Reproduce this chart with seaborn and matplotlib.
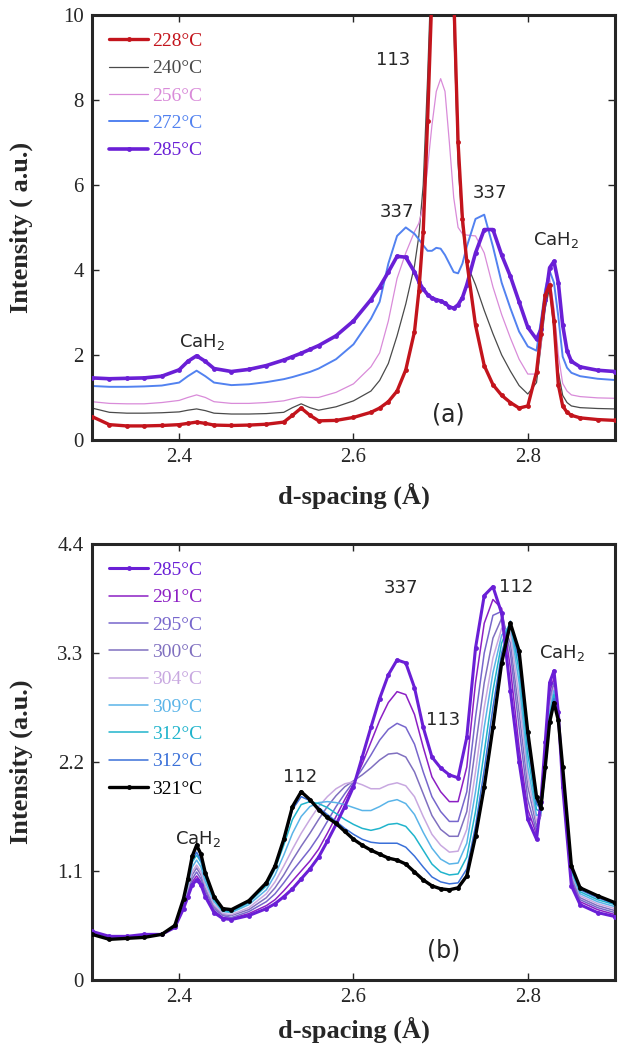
import pandas as pd
import seaborn as sns
import matplotlib.pyplot as plt

sns.set_style("ticks")
plt.rcParams["font.family"] = ["Liberation Serif", "DejaVu Serif"]
plt.rcParams["mathtext.fontset"] = "dejavusans"

# ---------------- panel (a) data ----------------
x_a = [2.30, 2.32, 2.34, 2.36, 2.38, 2.40, 2.41, 2.42, 2.43, 2.44,
       2.46, 2.48, 2.50, 2.52, 2.53, 2.54, 2.55, 2.56, 2.58, 2.60,
       2.62, 2.63, 2.64, 2.65, 2.66, 2.67, 2.675, 2.68, 2.685, 2.69,
       2.695, 2.70, 2.705, 2.71, 2.715, 2.72, 2.725, 2.73, 2.74, 2.75,
       2.76, 2.77, 2.78, 2.79, 2.80, 2.81, 2.815, 2.82, 2.825, 2.83,
       2.835, 2.84, 2.845, 2.85, 2.86, 2.88, 2.90]

a_228 = [0.55, 0.36, 0.33, 0.33, 0.34, 0.36, 0.39, 0.42, 0.39, 0.35,
         0.34, 0.35, 0.37, 0.42, 0.58, 0.75, 0.58, 0.45, 0.46, 0.53,
         0.65, 0.75, 0.90, 1.15, 1.65, 2.55, 3.50, 4.90, 7.50, 10.5,
         14.0, 16.0, 15.5, 13.0, 10.5, 7.0, 5.2, 4.2, 2.70, 1.75,
         1.30, 1.05, 0.88, 0.75, 0.80, 1.60, 2.50, 3.40, 3.65, 2.80,
         1.30, 0.80, 0.65, 0.58, 0.52, 0.48, 0.46]
a_240 = [0.75, 0.65, 0.63, 0.63, 0.64, 0.66, 0.70, 0.73, 0.69, 0.63,
         0.61, 0.61, 0.62, 0.65, 0.76, 0.85, 0.76, 0.70, 0.78, 0.92,
         1.15, 1.40, 1.80, 2.45, 3.20, 4.10, 4.80, 6.00, 8.50, 11.5,
         14.0, 15.0, 14.5, 12.5, 9.8, 6.5, 5.0, 4.15, 3.65, 3.05,
         2.50, 2.00, 1.62, 1.28, 1.08, 1.35, 2.20, 3.10, 3.58, 2.60,
         1.60, 1.05, 0.88, 0.80, 0.76, 0.74, 0.73]
a_256 = [0.90, 0.86, 0.85, 0.85, 0.88, 0.93, 1.00, 1.06, 1.00, 0.90,
         0.86, 0.86, 0.88, 0.92, 0.97, 1.01, 1.00, 1.00, 1.12, 1.32,
         1.72, 2.05, 2.80, 3.80, 4.40, 4.90, 5.10, 5.50, 6.40, 7.40,
         8.20, 8.50, 8.20, 7.00, 5.70, 5.00, 4.85, 4.82, 4.80, 4.40,
         3.60, 2.95, 2.40, 1.90, 1.55, 1.55, 2.20, 3.30, 3.82, 3.10,
         2.00, 1.33, 1.15, 1.06, 1.02, 0.99, 0.98]
a_272 = [1.27, 1.25, 1.25, 1.26, 1.28, 1.35, 1.50, 1.63, 1.50, 1.35,
         1.29, 1.31, 1.36, 1.43, 1.48, 1.54, 1.60, 1.68, 1.90, 2.25,
         2.85, 3.25, 4.15, 4.80, 5.00, 4.85, 4.72, 4.58, 4.45, 4.45,
         4.52, 4.50, 4.35, 4.15, 3.95, 3.92, 4.15, 4.55, 5.20, 5.30,
         4.55, 3.70, 3.10, 2.55, 2.20, 2.10, 2.80, 3.55, 3.98, 3.70,
         2.90, 1.96, 1.70, 1.58, 1.50, 1.44, 1.41]
a_285 = [1.46, 1.44, 1.45, 1.46, 1.50, 1.65, 1.85, 1.98, 1.85, 1.68,
         1.61, 1.66, 1.75, 1.88, 1.96, 2.04, 2.13, 2.22, 2.45, 2.80,
         3.30, 3.60, 3.95, 4.32, 4.30, 3.95, 3.72, 3.55, 3.42, 3.34,
         3.30, 3.27, 3.22, 3.13, 3.10, 3.18, 3.35, 3.65, 4.40, 4.95,
         4.95, 4.35, 3.85, 3.25, 2.65, 2.37, 2.60, 3.30, 4.05, 4.20,
         3.70, 2.70, 2.10, 1.85, 1.72, 1.64, 1.61]

# ---------------- panel (b) data ----------------
x_b = [2.30, 2.32, 2.34, 2.36, 2.38, 2.395, 2.405, 2.41, 2.415, 2.42,
       2.425, 2.43, 2.44, 2.45, 2.46, 2.48, 2.50, 2.51, 2.52, 2.53,
       2.54, 2.55, 2.56, 2.57, 2.58, 2.59, 2.60, 2.61, 2.62, 2.63,
       2.64, 2.65, 2.66, 2.67, 2.68, 2.69, 2.70, 2.71, 2.72, 2.73,
       2.74, 2.75, 2.76, 2.77, 2.78, 2.79, 2.80, 2.81, 2.815, 2.82,
       2.825, 2.83, 2.835, 2.84, 2.85, 2.86, 2.88, 2.90]

b_285 = [0.49, 0.44, 0.44, 0.46, 0.46, 0.53, 0.72, 0.84, 0.96, 1.01,
         0.96, 0.84, 0.68, 0.62, 0.61, 0.65, 0.72, 0.77, 0.84, 0.92,
         1.02, 1.12, 1.24, 1.40, 1.57, 1.75, 1.95, 2.25, 2.55, 2.84,
         3.08, 3.23, 3.20, 2.95, 2.55, 2.25, 2.14, 2.07, 2.04, 2.45,
         3.35, 3.88, 3.97, 3.70, 2.92, 2.20, 1.62, 1.42, 1.80, 2.40,
         3.00, 3.12, 2.70, 1.95, 0.95, 0.76, 0.68, 0.64]
b_291 = [0.48, 0.44, 0.44, 0.45, 0.46, 0.53, 0.74, 0.86, 0.99, 1.05,
         0.99, 0.87, 0.70, 0.63, 0.62, 0.67, 0.75, 0.81, 0.90, 1.00,
         1.10, 1.20, 1.32, 1.48, 1.65, 1.82, 1.98, 2.18, 2.40, 2.62,
         2.80, 2.91, 2.88, 2.68, 2.35, 2.05, 1.90, 1.80, 1.80, 2.15,
         3.00, 3.60, 3.84, 3.75, 3.15, 2.35, 1.72, 1.47, 1.72, 2.30,
         2.90, 3.05, 2.72, 2.00, 1.00, 0.79, 0.71, 0.66]
b_295 = [0.48, 0.43, 0.44, 0.45, 0.46, 0.54, 0.76, 0.88, 1.02, 1.09,
         1.02, 0.90, 0.72, 0.65, 0.63, 0.69, 0.79, 0.87, 0.98, 1.10,
         1.21, 1.32, 1.45, 1.60, 1.75, 1.88, 2.00, 2.13, 2.27, 2.42,
         2.53, 2.59, 2.55, 2.38, 2.10, 1.85, 1.70, 1.60, 1.60, 1.90,
         2.65, 3.30, 3.68, 3.72, 3.30, 2.55, 1.82, 1.50, 1.68, 2.22,
         2.85, 3.00, 2.70, 2.02, 1.02, 0.81, 0.73, 0.68]
b_300 = [0.48, 0.43, 0.44, 0.45, 0.46, 0.54, 0.77, 0.91, 1.06, 1.13,
         1.06, 0.93, 0.74, 0.66, 0.65, 0.71, 0.83, 0.93, 1.06, 1.21,
         1.35, 1.48, 1.62, 1.75, 1.86, 1.95, 2.01, 2.07, 2.14, 2.22,
         2.28, 2.29, 2.25, 2.10, 1.88, 1.66, 1.52, 1.45, 1.45, 1.70,
         2.35, 3.00, 3.45, 3.65, 3.40, 2.70, 1.95, 1.55, 1.66, 2.18,
         2.80, 2.97, 2.68, 2.04, 1.05, 0.83, 0.75, 0.70]
b_304 = [0.47, 0.43, 0.43, 0.44, 0.46, 0.54, 0.78, 0.93, 1.09, 1.16,
         1.09, 0.95, 0.76, 0.67, 0.66, 0.73, 0.87, 0.99, 1.15, 1.32,
         1.48, 1.62, 1.75, 1.85, 1.93, 1.98, 2.00, 1.97, 1.93, 1.93,
         1.97, 1.99, 1.96, 1.85, 1.65, 1.47, 1.36, 1.29, 1.30, 1.52,
         2.10, 2.75, 3.25, 3.55, 3.50, 2.85, 2.05, 1.60, 1.66, 2.15,
         2.75, 2.95, 2.66, 2.06, 1.07, 0.85, 0.77, 0.72]
b_309 = [0.47, 0.42, 0.43, 0.44, 0.46, 0.54, 0.79, 0.96, 1.14, 1.21,
         1.14, 0.99, 0.79, 0.69, 0.68, 0.76, 0.91, 1.06, 1.26, 1.48,
         1.65, 1.75, 1.79, 1.80, 1.79, 1.77, 1.74, 1.71, 1.71, 1.75,
         1.80, 1.82, 1.78, 1.67, 1.49, 1.33, 1.22, 1.17, 1.18, 1.38,
         1.90, 2.55, 3.10, 3.48, 3.58, 3.00, 2.15, 1.66, 1.68, 2.12,
         2.70, 2.92, 2.65, 2.08, 1.09, 0.87, 0.79, 0.74]
b_312a = [0.47, 0.42, 0.43, 0.44, 0.46, 0.55, 0.80, 0.99, 1.19, 1.26,
          1.19, 1.03, 0.81, 0.70, 0.69, 0.78, 0.95, 1.12, 1.36, 1.62,
          1.77, 1.80, 1.78, 1.74, 1.68, 1.62, 1.57, 1.53, 1.51, 1.53,
          1.57, 1.58, 1.55, 1.45, 1.31, 1.17, 1.09, 1.06, 1.07, 1.24,
          1.70, 2.30, 2.92, 3.40, 3.62, 3.12, 2.28, 1.72, 1.70, 2.10,
          2.65, 2.88, 2.64, 2.10, 1.11, 0.89, 0.81, 0.76]
b_312b = [0.46, 0.41, 0.42, 0.43, 0.46, 0.55, 0.81, 1.00, 1.21, 1.29,
          1.21, 1.05, 0.83, 0.71, 0.70, 0.79, 0.97, 1.14, 1.40, 1.72,
          1.85, 1.81, 1.74, 1.67, 1.60, 1.53, 1.47, 1.42, 1.39, 1.38,
          1.38, 1.38, 1.34, 1.25, 1.14, 1.04, 0.99, 0.97, 0.98, 1.12,
          1.55, 2.12, 2.75, 3.30, 3.62, 3.22, 2.40, 1.78, 1.72, 2.12,
          2.62, 2.84, 2.63, 2.12, 1.13, 0.91, 0.83, 0.77]
b_321 = [0.46, 0.41, 0.42, 0.43, 0.46, 0.55, 0.82, 1.02, 1.25, 1.36,
         1.27, 1.08, 0.84, 0.72, 0.71, 0.80, 0.98, 1.15, 1.42, 1.75,
         1.90, 1.82, 1.72, 1.64, 1.58, 1.50, 1.42, 1.36, 1.31, 1.27,
         1.23, 1.21, 1.17, 1.09, 1.01, 0.95, 0.92, 0.91, 0.93, 1.05,
         1.45, 1.95, 2.55, 3.20, 3.60, 3.32, 2.50, 1.85, 1.74, 2.15,
         2.60, 2.80, 2.62, 2.15, 1.15, 0.93, 0.85, 0.78]

series_a = [("228°C", a_228), ("240°C", a_240), ("256°C", a_256),
            ("272°C", a_272), ("285°C", a_285)]
series_b = [("285°C", b_285), ("291°C", b_291), ("295°C", b_295),
            ("300°C", b_300), ("304°C", b_304), ("309°C", b_309),
            ("312°C", b_312a), ("312°C", b_312b), ("321°C", b_321)]

# colour, line width, marker, zorder
style_a = [("#c3141c", 2.4, "o", 4), ("#4a4a4a", 0.9, None, 2),
           ("#d98bd9", 0.9, None, 2), ("#5282f0", 1.4, None, 2),
           ("#6a1fd6", 2.6, "o", 3)]
style_b = [("#6a1fd6", 2.2, "o", 4), ("#8c1fc4", 1.1, None, 2),
           ("#7766cc", 1.1, None, 2), ("#8070c0", 1.1, None, 2),
           ("#c8a8e0", 1.1, None, 2), ("#5ab4e8", 1.1, None, 2),
           ("#20b4cc", 1.1, None, 2), ("#3a70d8", 1.1, None, 2),
           ("black", 2.4, "o", 5)]

fig = plt.figure(figsize=(6.22, 10.5), dpi=100)
ax1 = fig.add_axes([0.1479, 0.581, 0.8408, 0.4048])
ax2 = fig.add_axes([0.1479, 0.0667, 0.8408, 0.4152])

for ax, xs, series, styles in [(ax1, x_a, series_a, style_a),
                               (ax2, x_b, series_b, style_b)]:
    for (lab, ys), (col, lw, mk, zo) in zip(series, styles):
        sns.lineplot(x=xs, y=ys, ax=ax, color=col, linewidth=lw, marker=mk,
                     markersize=3.5, markeredgewidth=0, label=lab,
                     sort=False, zorder=zo)

ax1.set_ylim(0, 10)
ax1.set_yticks([0, 2, 4, 6, 8, 10])
ax2.set_ylim(0, 4.4)
ax2.set_yticks([0, 1.1, 2.2, 3.3, 4.4])
ax2.set_yticklabels(["0", "1.1", "2.2", "3.3", "4.4"])

for ax in (ax1, ax2):
    ax.set_xlim(2.3, 2.9)
    ax.set_xticks([2.4, 2.6, 2.8])
    ax.tick_params(direction="in", length=5, width=1, labelsize=15,
                   top=True, right=True, pad=6)
    for sp in ax.spines.values():
        sp.set_linewidth(2.2)
    ax.set_xlabel("d-spacing (Å)", fontsize=19, fontweight="bold")
    ax.legend(loc="upper left", frameon=False, fontsize=14, handlelength=2.0,
              handletextpad=0.2, labelspacing=0.5, borderaxespad=0.5,
              labelcolor="linecolor")

ax1.set_ylabel("Intensity ( a.u.)", fontsize=19, fontweight="bold")
ax2.set_ylabel("Intensity (a.u.)", fontsize=19, fontweight="bold")
ax1.yaxis.set_label_coords(-0.112, 0.5)
ax2.yaxis.set_label_coords(-0.112, 0.5)
ax1.xaxis.set_label_coords(0.5, -0.1)
ax2.xaxis.set_label_coords(0.5, -0.085)

ann = dict(fontsize=13, family="DejaVu Sans", ha="center", va="center")
ax1.text(2.645, 8.94, "113", **ann)
ax1.text(2.65, 5.37, "337", **ann)
ax1.text(2.757, 5.82, "337", **ann)
ax1.text(2.832, 4.7, "CaH$_2$", **ann)
ax1.text(2.426, 2.3, "CaH$_2$", **ann)
ax1.text(2.709, 0.6, "(a)", fontsize=17, family="DejaVu Sans",
         ha="center", va="center")

ax2.text(2.654, 3.96, "337", **ann)
ax2.text(2.787, 3.97, "112", **ann)
ax2.text(2.839, 3.3, "CaH$_2$", **ann)
ax2.text(2.703, 2.62, "113", **ann)
ax2.text(2.539, 2.05, "112", **ann)
ax2.text(2.422, 1.42, "CaH$_2$", **ann)
ax2.text(2.703, 0.30, "(b)", fontsize=17, family="DejaVu Sans",
         ha="center", va="center")

fig.savefig("out.png", dpi=100)
